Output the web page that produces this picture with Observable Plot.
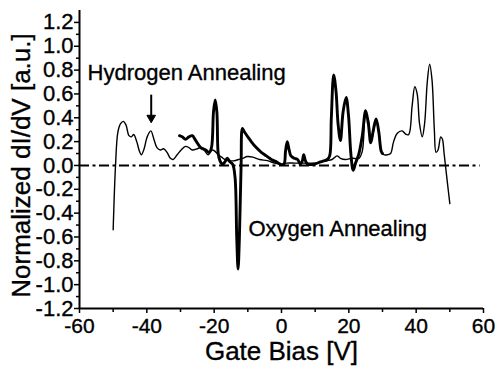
<!DOCTYPE html>
<html>
<head>
<meta charset="utf-8">
<script src="https://cdn.jsdelivr.net/npm/d3@7"></script>
<script src="https://cdn.jsdelivr.net/npm/@observablehq/plot@0.6"></script>
<style>
  body { margin: 0; background: #fff; }
  #chart svg { display: block; }
  #chart svg text { stroke: black; stroke-width: 0.35px; }
</style>
</head>
<body>
<div id="chart"></div>
<script>
// Hydrogen annealing (thin line)
const hydrogenBias = [-50.0,-49.3,-48.6,-47.8,-47.0,-46.2,-45.3,-44.6,-43.9,-43.0,-42.2,-41.6,-40.8,-39.9,-38.8,-37.9,-37.0,-36.0,-35.0,-34.0,-33.0,-32.2,-31.0,-29.8,-28.5,-27.5,-26.5,-25.0,-24.0,-23.0,-21.8,-20.6,-19.8,-18.8,-17.8,-16.8,-15.5,-14.0,-12.8,-11.5,-10.2,-8.5,-6.5,-4.2,-2.0,-0.3,1.5,4.0,6.0,8.0,10.0,11.6,13.5,15.0,16.5,17.5,19.0,21.0,23.0,24.0,25.0,25.8,26.5,27.3,28.1,28.9,29.7,30.4,31.5,32.4,33.3,34.4,35.8,37.0,37.8,38.8,39.6,40.3,41.0,41.8,42.5,43.3,44.0,44.7,45.4,45.9,46.5,47.3,47.8,48.3,48.7,49.3,50.0];
const hydrogenDIdV = [-0.54,0.0,0.28,0.35,0.37,0.34,0.25,0.24,0.26,0.20,0.12,0.09,0.14,0.24,0.29,0.22,0.15,0.13,0.14,0.11,0.06,0.05,0.09,0.13,0.16,0.15,0.13,0.14,0.15,0.13,0.09,0.13,0.12,0.09,0.07,0.05,0.04,0.04,0.05,0.06,0.075,0.07,0.05,0.04,0.02,0.01,0.02,0.02,0.02,0.02,0.02,0.03,0.04,0.05,0.08,0.06,0.05,0.06,0.06,0.12,0.42,0.38,0.20,0.28,0.38,0.28,0.12,0.09,0.09,0.10,0.20,0.27,0.29,0.26,0.26,0.50,0.66,0.60,0.35,0.24,0.35,0.70,0.85,0.72,0.30,0.11,0.13,0.24,0.22,0.10,0.0,-0.15,-0.32];

// Oxygen annealing (thick line)
const oxygenBias = [-30.3,-29.5,-28.5,-27.5,-26.5,-25.5,-24.0,-22.5,-21.5,-20.8,-20.2,-19.7,-19.2,-18.8,-18.3,-17.5,-16.8,-16.1,-15.3,-14.5,-13.8,-13.3,-12.9,-12.5,-12.0,-11.6,-11.0,-10.0,-9.0,-7.5,-6.0,-4.5,-3.0,-1.5,-0.3,0.7,1.2,1.7,2.2,2.8,3.8,4.8,5.6,6.2,6.6,7.1,7.8,9.6,11.6,13.6,14.3,14.8,15.5,16.2,16.8,17.5,18.3,19.2,19.9,20.6,21.3,22.0,23.0,24.0,25.0,25.8,26.5,27.3,28.1,28.9,29.6,30.0];
const oxygenDIdV = [0.25,0.24,0.22,0.24,0.25,0.21,0.15,0.13,0.11,0.15,0.45,0.55,0.45,0.10,0.04,0.01,0.03,0.06,0.03,0.01,-0.10,-0.60,-0.87,-0.60,0.0,0.31,0.28,0.24,0.20,0.15,0.11,0.08,0.05,0.03,0.01,0.01,0.12,0.20,0.14,0.08,0.06,0.05,0.01,0.04,0.09,0.04,0.01,0.01,0.03,0.05,0.08,0.40,0.76,0.62,0.35,0.21,0.45,0.57,0.42,0.10,-0.04,0.02,0.10,0.25,0.46,0.35,0.19,0.30,0.39,0.28,0.12,0.10];

// Tick values and labels
const xMajorTicks = [-60, -40, -20, 0, 20, 40, 60];
const xMinorTicks = [-50, -30, -10, 10, 30, 50];
const yMajorTicks = [-1.2, -1.0, -0.8, -0.6, -0.4, -0.2, 0.0, 0.2, 0.4, 0.6, 0.8, 1.0, 1.2];
const yMinorTicks = [-1.1, -0.9, -0.7, -0.5, -0.3, -0.1, 0.1, 0.3, 0.5, 0.7, 0.9, 1.1];

// Annotations
const annotationText = ["Hydrogen Annealing", "Oxygen Annealing"];
const annotationX = [-57.6, -9.8];
const annotationY = [0.718, -0.594];
const arrowX = [-38.7];
const arrowTop = [0.59];
const arrowTip = [0.40];

const xTitle = "Gate Bias [V]";
const yTitle = "Normalized dI/dV [a.u.]";

const hydrogen = hydrogenBias.map((v, i) => ({v, g: hydrogenDIdV[i]}));
const oxygen = oxygenBias.map((v, i) => ({v, g: oxygenDIdV[i]}));
const annotations = annotationText.map((t, i) => ({t, x: annotationX[i], y: annotationY[i]}));
const arrows = arrowX.map((x, i) => ({x, y1: arrowTop[i], y2: arrowTip[i]}));

const font = "'Liberation Sans', Arial, Helvetica, sans-serif";

const chart = Plot.plot({
  width: 496,
  height: 369,
  marginLeft: 79,
  marginRight: 13,
  marginTop: 10,
  marginBottom: 61,
  style: {fontFamily: font, fontSize: "21px", color: "black", background: "white"},
  x: {domain: [-60, 60]},
  y: {domain: [-1.2, 1.3]},
  marks: [
    Plot.ruleY([0], {x1: -60, x2: 59, stroke: "black", strokeWidth: 2, strokeDasharray: "10,3.5,3,3.5"}),
    Plot.line(hydrogen, {x: "v", y: "g", stroke: "black", strokeWidth: 1.4, curve: "catmull-rom"}),
    Plot.line(oxygen, {x: "v", y: "g", stroke: "black", strokeWidth: 2.9, curve: "catmull-rom"}),
    Plot.ruleX(arrows, {x: "x", y1: "y1", y2: "y2", stroke: "black", strokeWidth: 2}),
    Plot.dot(arrows, {x: "x", y: "y2", symbol: "triangle", rotate: 180, r: 3.2, fill: "black", stroke: "black", strokeWidth: 1}),
    Plot.text(annotations, {x: "x", y: "y", text: "t", textAnchor: "start", lineAnchor: "bottom", fontSize: 22, fill: "black"}),
    Plot.axisX({ticks: xMajorTicks, tickSize: 5, tickPadding: 5, tickFormat: d => String(d), label: null, strokeWidth: 1.5}),
    Plot.axisX({ticks: xMinorTicks, tickSize: 4, tickFormat: () => "", label: null, strokeWidth: 1.5}),
    Plot.axisY({ticks: yMajorTicks, tickSize: 5, tickPadding: 1, tickFormat: d => d.toFixed(1), label: null, strokeWidth: 1.5}),
    Plot.axisY({ticks: yMinorTicks, tickSize: 3, tickFormat: () => "", label: null, strokeWidth: 1.5}),
    Plot.ruleX([-60], {stroke: "black", strokeWidth: 2}),
    Plot.ruleY([-1.2], {stroke: "black", strokeWidth: 2}),
    Plot.text([xTitle], {frameAnchor: "bottom", lineAnchor: "bottom", dy: 51, fontSize: 26, fill: "black"}),
    Plot.text([yTitle], {frameAnchor: "left", textAnchor: "middle", rotate: -90, lineAnchor: "middle", dx: -58, dy: 6, fontSize: 26, fill: "black"})
  ]
});
// slightly larger y tick labels (numbers with one decimal)
d3.select(chart).selectAll("text").each(function() {
  if (/^-?\d+\.\d$/.test(this.textContent.trim())) this.setAttribute("style", "font-size: 22px");
});
document.getElementById("chart").appendChild(chart);
</script>
</body>
</html>
